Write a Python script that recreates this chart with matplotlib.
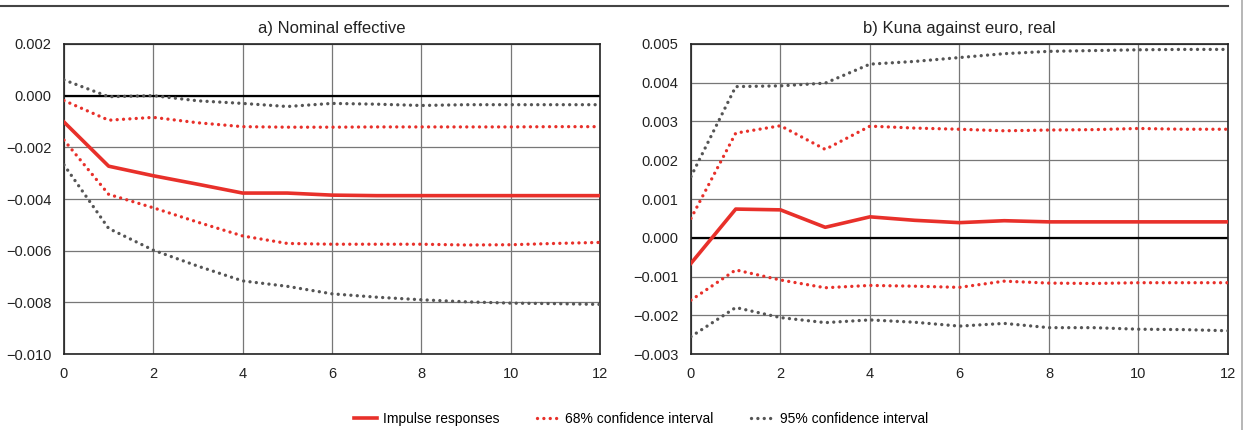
import numpy as np
import matplotlib.pyplot as plt
from matplotlib.lines import Line2D

# data: horizon 0..12
horizon = np.arange(13)

# a) Nominal effective
nom_irf = [-0.00102, -0.00273, -0.00310, -0.00343, -0.00377, -0.00377, -0.00385,
           -0.00387, -0.00387, -0.00387, -0.00387, -0.00387, -0.00387]
nom_up68 = [-0.00019, -0.00095, -0.00084, -0.00105, -0.00120, -0.00122, -0.00122,
            -0.00121, -0.00121, -0.00121, -0.00121, -0.00120, -0.00120]
nom_lo68 = [-0.00172, -0.00382, -0.00434, -0.00490, -0.00543, -0.00572, -0.00575,
            -0.00575, -0.00575, -0.00578, -0.00577, -0.00572, -0.00568]
nom_up95 = [0.00061, -0.00004, 0.00000, -0.00020, -0.00030, -0.00042, -0.00030,
            -0.00033, -0.00038, -0.00035, -0.00035, -0.00035, -0.00035]
nom_lo95 = [-0.00268, -0.00514, -0.00598, -0.00660, -0.00717, -0.00738, -0.00767,
            -0.00780, -0.00790, -0.00798, -0.00803, -0.00805, -0.00808]

# b) Kuna against euro, real
real_irf = [-0.00066, 0.00074, 0.00072, 0.00027, 0.00054, 0.00045, 0.00039,
            0.00044, 0.00041, 0.00041, 0.00041, 0.00041, 0.00041]
real_up68 = [0.00050, 0.00270, 0.00289, 0.00228, 0.00288, 0.00283, 0.00280,
             0.00276, 0.00278, 0.00279, 0.00282, 0.00280, 0.00280]
real_lo68 = [-0.00161, -0.00083, -0.00109, -0.00129, -0.00123, -0.00125, -0.00128,
             -0.00112, -0.00117, -0.00118, -0.00116, -0.00116, -0.00116]
real_up95 = [0.00158, 0.00390, 0.00392, 0.00399, 0.00448, 0.00455, 0.00465,
             0.00475, 0.00481, 0.00483, 0.00485, 0.00486, 0.00486]
real_lo95 = [-0.00255, -0.00180, -0.00206, -0.00219, -0.00212, -0.00218, -0.00228,
             -0.00221, -0.00232, -0.00232, -0.00236, -0.00237, -0.00240]

titles = ["a) Nominal effective", "b) Kuna against euro, real"]
legend_labels = ["Impulse responses", "68% confidence interval", "95% confidence interval"]
nom_yticks = [-0.010, -0.008, -0.006, -0.004, -0.002, 0.000, 0.002]
real_yticks = [-0.003, -0.002, -0.001, 0.000, 0.001, 0.002, 0.003, 0.004, 0.005]

RED = "#e8302a"
GREY = "#555555"

plt.rcParams['font.family'] = ['Liberation Sans', 'DejaVu Sans']

fig = plt.figure(figsize=(12.45, 4.3), dpi=100)
ax1 = fig.add_axes([0.0514, 0.1767, 0.4305, 0.721])
ax2 = fig.add_axes([0.555, 0.1767, 0.4313, 0.721])

dot = (0, (0.01, 1.9))


def draw(ax, irf, up68, lo68, up95, lo95, yticks, title):
    ax.set_xlim(0, 12)
    ax.set_ylim(yticks[0], yticks[-1])
    ax.set_xticks(range(0, 13, 2))
    ax.set_yticks(yticks)
    ax.grid(True, color="#777777", lw=0.9)
    ax.set_axisbelow(True)
    ax.axhline(0, color="black", lw=1.6, zorder=1.5)
    for ser, col in [(up95, GREY), (lo95, GREY), (up68, RED), (lo68, RED)]:
        ax.plot(horizon, ser, color=col, ls=dot, lw=2.4, dash_capstyle="round", zorder=3)
    ax.plot(horizon, irf, color=RED, lw=2.6, zorder=4)
    ax.yaxis.set_major_formatter(plt.FuncFormatter(lambda v, p: ("%.3f" % v).replace("-", "\u2212")))
    ax.tick_params(length=0, labelsize=10.5, colors="#222222")
    ax.tick_params(axis="y", pad=9)
    ax.tick_params(axis="x", pad=9)
    for s in ax.spines.values():
        s.set_color("#222222")
        s.set_linewidth(1.2)
    ax.set_title(title, fontsize=12, pad=8, color="#222222")


draw(ax1, nom_irf, nom_up68, nom_lo68, nom_up95, nom_lo95, nom_yticks, titles[0])
draw(ax2, real_irf, real_up68, real_lo68, real_up95, real_lo95, real_yticks, titles[1])

# top rule and right rule
fig.add_artist(Line2D([0, 0.9863], [0.986, 0.986], color="#444444", lw=1.5))
fig.add_artist(Line2D([0.9976, 0.9976], [0, 1], color="#aaaaaa", lw=1.2))

handles = [
    Line2D([], [], color=RED, lw=2.6),
    Line2D([], [], color=RED, ls=dot, lw=2.4, dash_capstyle="round"),
    Line2D([], [], color=GREY, ls=dot, lw=2.4, dash_capstyle="round"),
]
fig.legend(handles, legend_labels, loc="center", bbox_to_anchor=(0.515, 0.026), ncol=3,
           frameon=False, fontsize=10, handlelength=1.6, columnspacing=2.7, handletextpad=0.45)

fig.savefig("out.png", dpi=100)
